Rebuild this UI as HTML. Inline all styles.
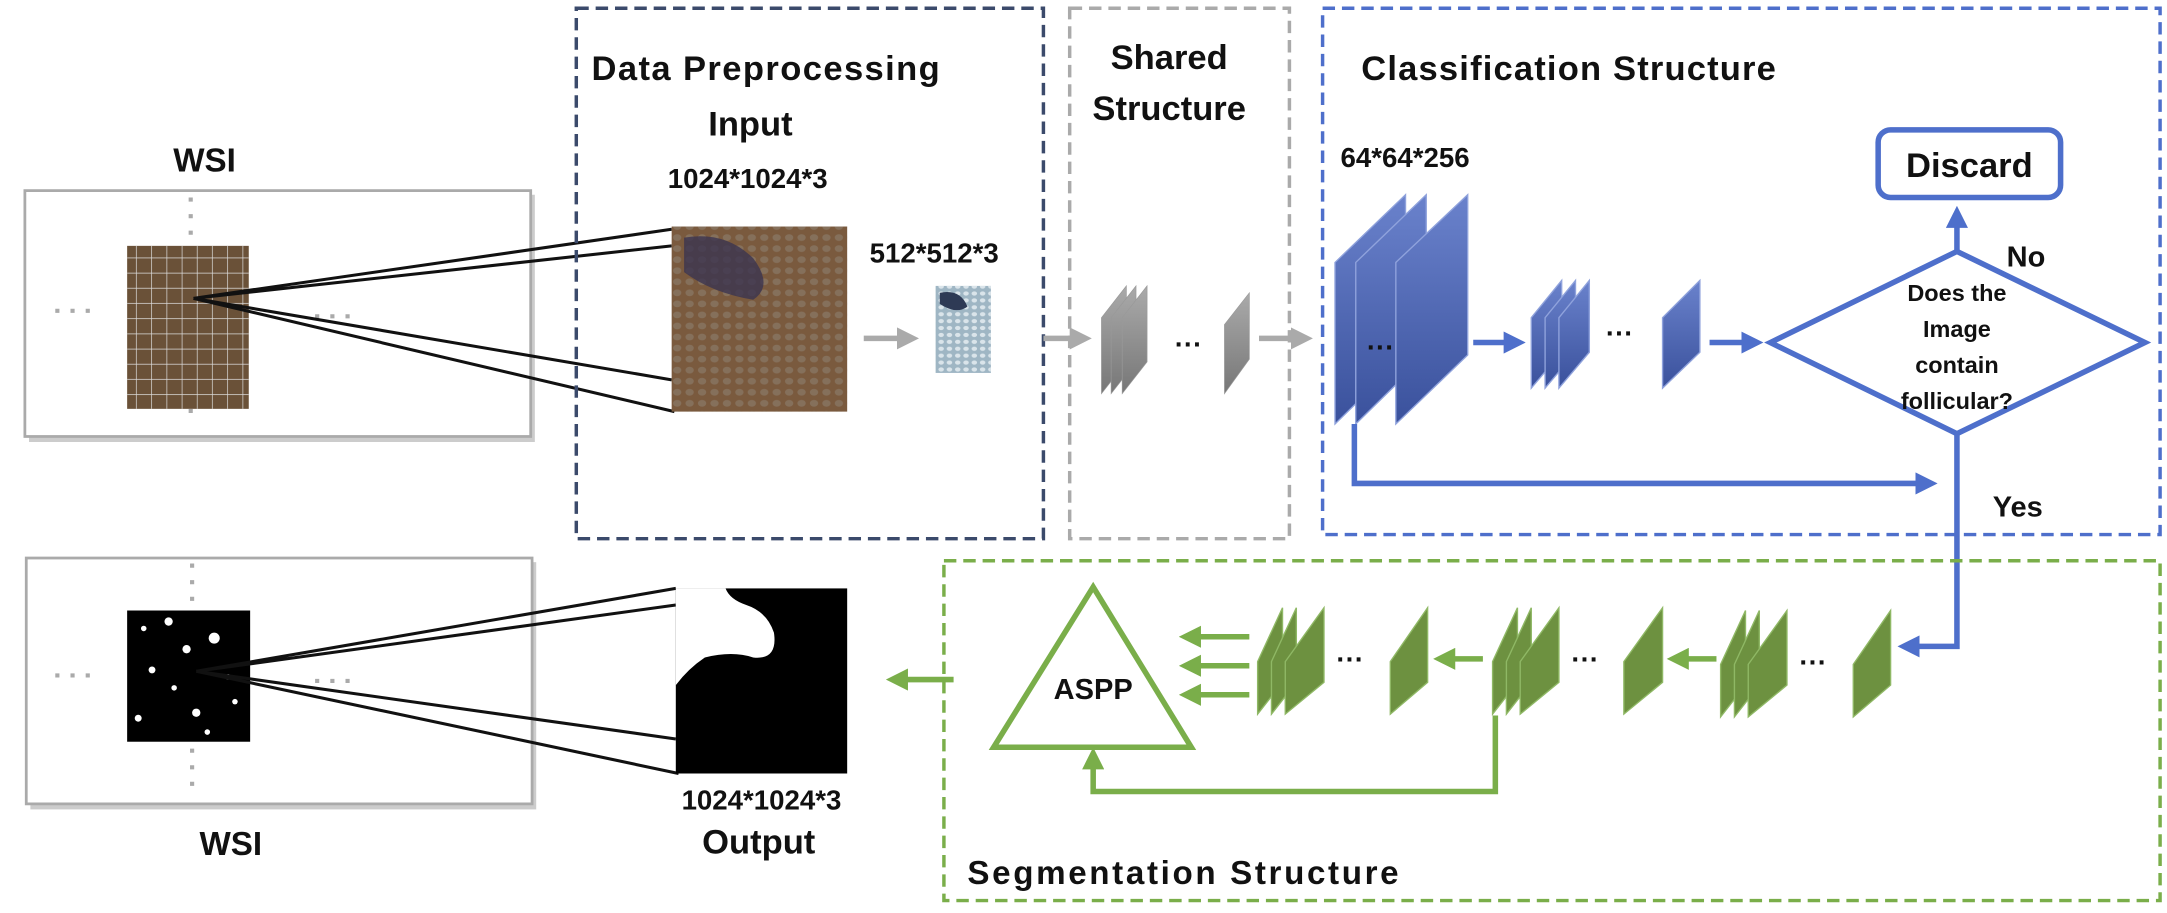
<!DOCTYPE html>
<html><head><meta charset="utf-8"><style>
html,body{margin:0;padding:0;background:#fff;}
svg{display:block;}
text{font-family:"Liberation Sans",sans-serif;font-weight:bold;fill:#111;}
</style></head><body>
<svg width="2167" height="913" viewBox="0 0 1568 661" preserveAspectRatio="none" xmlns="http://www.w3.org/2000/svg">
<defs>
<linearGradient id="gb" x1="0" y1="0" x2="0" y2="1"><stop offset="0" stop-color="#6a82cc"/><stop offset="1" stop-color="#3a519c"/></linearGradient>
<linearGradient id="gg" x1="0" y1="0" x2="0" y2="1"><stop offset="0" stop-color="#aaa"/><stop offset="1" stop-color="#777"/></linearGradient>
<pattern id="cells" width="9" height="8" patternUnits="userSpaceOnUse"><ellipse cx="4" cy="4" rx="3" ry="2.4" fill="#8a7a68" opacity="0.7"/></pattern>
<pattern id="cells2" width="6" height="5" patternUnits="userSpaceOnUse"><ellipse cx="3" cy="2.5" rx="2" ry="1.5" fill="#e8f0f4" opacity="0.8"/></pattern>
<pattern id="grid" width="11" height="11" patternUnits="userSpaceOnUse"><path d="M11 0V11M0 11H11" stroke="#ddd" stroke-width="1" fill="none"/></pattern>
<marker id="ab" markerWidth="4" markerHeight="4" refX="2" refY="2" orient="auto" markerUnits="strokeWidth"><path d="M0,0L4,2L0,4z" fill="#4e6fcb"/></marker>
<marker id="ag" markerWidth="4" markerHeight="4" refX="2" refY="2" orient="auto" markerUnits="strokeWidth"><path d="M0,0L4,2L0,4z" fill="#7aae4a"/></marker>
<marker id="agr" markerWidth="4" markerHeight="4" refX="2" refY="2" orient="auto" markerUnits="strokeWidth"><path d="M0,0L4,2L0,4z" fill="#aaa"/></marker>
</defs>

<!-- Top WSI -->
<g>
<rect x="21" y="141" width="366" height="179" fill="#ccc"/>
<rect x="18" y="138" width="366" height="178" fill="#fff" stroke="#aaa" stroke-width="2"/>
<text x="148" y="124" font-size="24" text-anchor="middle">WSI</text>
<path d="M138 143V172M138 224V305" stroke="#aaa" stroke-width="3" stroke-dasharray="3,9"/>
<path d="M40 225H68M228 229H260" stroke="#aaa" stroke-width="3" stroke-dasharray="3,8"/>
<rect x="92" y="178" width="88" height="118" fill="#6a5138"/>
<rect x="92" y="178" width="88" height="118" fill="url(#grid)"/>
</g>
<g stroke="#111" stroke-width="2.2" fill="none">
<path d="M140 216L486 166M140 216L486 178M140 216L486 275M140 216L488 298"/>
</g>

<!-- Data preprocessing -->
<g>
<rect x="417" y="6" width="338" height="384" fill="none" stroke="#3b4a6b" stroke-width="2.5" stroke-dasharray="9,5"/>
<text x="428" y="58" font-size="25" textLength="252">Data Preprocessing</text>
<text x="543" y="98" font-size="25" text-anchor="middle">Input</text>
<text x="541" y="136" font-size="20" text-anchor="middle">1024*1024*3</text>
<rect x="486" y="164" width="127" height="134" fill="#7a5a3e"/>
<rect x="486" y="164" width="127" height="134" fill="url(#cells)"/>
<path d="M495 172q30 -5 50 15q15 20 0 30q-30 -5 -50 -20z" fill="#3b3450" opacity="0.8"/>
<text x="676" y="190" font-size="20" text-anchor="middle">512*512*3</text>
<rect x="677" y="207" width="40" height="63" fill="#9fb6c4"/>
<rect x="677" y="207" width="40" height="63" fill="url(#cells2)"/>
<path d="M680 212q15 -3 20 10q-8 6 -20 -2z" fill="#2e3a55"/>
<path d="M625 245H657" stroke="#aaa" stroke-width="4" marker-end="url(#agr)"/>
</g>

<!-- Shared -->
<g>
<rect x="774" y="6" width="159" height="384" fill="none" stroke="#aaa" stroke-width="2.5" stroke-dasharray="9,5"/>
<text x="846" y="50" font-size="25" text-anchor="middle">Shared</text>
<text x="846" y="87" font-size="25" text-anchor="middle">Structure</text>
<path d="M755 245H782" stroke="#aaa" stroke-width="4" marker-end="url(#agr)"/>
<g fill="url(#gg)" stroke="#999" stroke-width="0.5">
<path d="M797 230L815 207V262L797 285z"/><path d="M804 230L822 207V262L804 285z"/><path d="M812 230L830 207V262L812 285z"/>
<path d="M886 235L904 212V260L886 285z"/>
</g>
<text x="860" y="256" font-size="20" text-anchor="middle">···</text>
<path d="M911 245H942" stroke="#aaa" stroke-width="4" marker-end="url(#agr)"/>
</g>

<!-- Classification -->
<g>
<rect x="957" y="6" width="606" height="381" fill="none" stroke="#4e6fcb" stroke-width="2.5" stroke-dasharray="9,5"/>
<text x="985" y="58" font-size="25" textLength="300">Classification Structure</text>
<text x="970" y="121" font-size="20">64*64*256</text>
<g fill="url(#gb)" stroke="#8fa2dc" stroke-width="1">
<path d="M966 190L1017 141V257L966 307z"/><path d="M981 190L1032 141V257L981 307z"/><path d="M1010 190L1062 141V257L1010 307z"/>
<path d="M1108 230L1130 203V255L1108 281z"/><path d="M1118 230L1140 203V255L1118 281z"/><path d="M1128 230L1150 203V255L1128 281z"/>
<path d="M1203 230L1230 203V255L1203 281z"/>
</g>
<text x="999" y="258" font-size="20" text-anchor="middle">···</text>
<text x="1172" y="248" font-size="20" text-anchor="middle">···</text>
<g stroke="#4e6fcb" stroke-width="4" fill="none">
<path d="M1066 248H1096" marker-end="url(#ab)"/>
<path d="M1237 248H1268" marker-end="url(#ab)"/>
<path d="M1416 182V157" marker-end="url(#ab)"/>
<path d="M980 307V350H1394" marker-end="url(#ab)"/>
<path d="M1416 314V468H1381" marker-end="url(#ab)"/>
<path d="M1281 248L1416 182L1552 248L1416 314z"/>
<rect x="1359" y="94" width="132" height="49" rx="9"/>
</g>
<text x="1425" y="128" font-size="25" text-anchor="middle">Discard</text>
<text x="1416" y="218" font-size="17" text-anchor="middle">Does the</text>
<text x="1416" y="244" font-size="17" text-anchor="middle">Image</text>
<text x="1416" y="270" font-size="17" text-anchor="middle">contain</text>
<text x="1416" y="296" font-size="17" text-anchor="middle">follicular?</text>
<text x="1466" y="193" font-size="21" text-anchor="middle">No</text>
<text x="1460" y="374" font-size="21" text-anchor="middle">Yes</text>
</g>

<!-- Segmentation -->
<g>
<rect x="683" y="406" width="880" height="246" fill="none" stroke="#7aae4a" stroke-width="2.5" stroke-dasharray="9,5"/>
<text x="700" y="640" font-size="24" textLength="312">Segmentation Structure</text>
<g fill="#6d9140" stroke="#8fb865" stroke-width="1">
<path d="M910 479L928 440V494L910 517z"/><path d="M920 479L938 440V494L920 517z"/><path d="M930 479L958 440V494L930 517z"/>
<path d="M1006 479L1033 440V494L1006 517z"/>
<path d="M1080 479L1098 440V494L1080 517z"/><path d="M1090 479L1108 440V494L1090 517z"/><path d="M1100 479L1128 440V494L1100 517z"/>
<path d="M1175 479L1203 440V494L1175 517z"/>
<path d="M1245 481L1263 442V496L1245 519z"/><path d="M1255 481L1273 442V496L1255 519z"/><path d="M1265 481L1293 442V496L1265 519z"/>
<path d="M1341 481L1368 442V496L1341 519z"/>
</g>
<text x="977" y="484" font-size="20" text-anchor="middle">···</text>
<text x="1147" y="484" font-size="20" text-anchor="middle">···</text>
<text x="1312" y="486" font-size="20" text-anchor="middle">···</text>
<g stroke="#7aae4a" stroke-width="4" fill="none">
<path d="M1073 477H1045" marker-end="url(#ag)"/>
<path d="M1242 477H1214" marker-end="url(#ag)"/>
<path d="M904 461H861" marker-end="url(#ag)"/>
<path d="M904 482H861" marker-end="url(#ag)"/>
<path d="M904 503H861" marker-end="url(#ag)"/>
<path d="M1082 518V573H791V549" marker-end="url(#ag)"/>
<path d="M690 492H649" marker-end="url(#ag)"/>
<path d="M719 541L791 425L862 541z"/>
</g>
<text x="791" y="506" font-size="21" text-anchor="middle">ASPP</text>
</g>

<!-- Bottom WSI -->
<g>
<rect x="22" y="407" width="366" height="179" fill="#ccc"/>
<rect x="19" y="404" width="366" height="178" fill="#fff" stroke="#aaa" stroke-width="2"/>
<text x="167" y="619" font-size="24" text-anchor="middle">WSI</text>
<path d="M139 408V437M139 542V572" stroke="#aaa" stroke-width="3" stroke-dasharray="3,9"/>
<path d="M40 489H68M228 493H260" stroke="#aaa" stroke-width="3" stroke-dasharray="3,8"/>
<rect x="92" y="442" width="89" height="95" fill="#000"/>
<g fill="#fff"><circle cx="104" cy="455" r="2"/><circle cx="122" cy="450" r="3"/><circle cx="155" cy="462" r="4"/><circle cx="110" cy="485" r="2.5"/><circle cx="135" cy="470" r="3"/><circle cx="165" cy="490" r="2"/><circle cx="100" cy="520" r="2.5"/><circle cx="142" cy="516" r="3"/><circle cx="170" cy="508" r="2"/><circle cx="126" cy="498" r="2"/><circle cx="150" cy="530" r="2"/></g>
</g>
<g stroke="#111" stroke-width="2.2" fill="none">
<path d="M142 486L489 426M142 486L489 438M142 486L489 535M142 486L491 560"/>
</g>
<g>
<rect x="489" y="426" width="124" height="134" fill="#000"/>
<path d="M489 426H525q3 8 15 12q15 5 20 20q3 20 -15 18q-15 -5 -35 0q-12 8 -21 20z" fill="#fff"/>
<text x="551" y="586" font-size="20" text-anchor="middle">1024*1024*3</text>
<text x="549" y="618" font-size="25" text-anchor="middle">Output</text>
</g>
</svg>
</body></html>
